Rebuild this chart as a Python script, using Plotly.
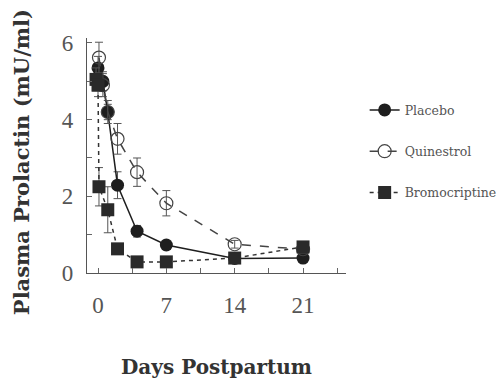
import plotly.graph_objects as go

# Data
placebo_days = [0, 0.5, 1, 2, 4, 7, 14, 21]
placebo_vals = [5.35, 5.0, 4.2, 2.29, 1.09, 0.73, 0.38, 0.39]
placebo_err = [0.3, 0.25, 0.2, 0.35, 0.15, 0.12, 0.1, 0.1]

quin_days = [0.1, 0.5, 1, 2, 4, 7, 14, 21]
quin_vals = [5.62, 4.9, 4.2, 3.5, 2.63, 1.82, 0.75, 0.62]
quin_err = [0.4, 0.3, 0.3, 0.4, 0.37, 0.33, 0.1, 0.1]

bromo_days = [-0.2, 0, 0.1, 1, 2, 4, 7, 14, 21]
bromo_vals = [5.05, 4.9, 2.25, 1.65, 0.63, 0.29, 0.29, 0.39, 0.68]
bromo_err = [0.3, 0.3, 0.5, 0.6, 0.1, 0.08, 0.08, 0.12, 0.12]

x_tick_vals = [0, 7, 14, 21]
y_tick_vals = [0, 2, 4, 6]

x_title = "Days Postpartum"
y_title = "Plasma Prolactin (mU/ml)"

line_col = "#1e1e1e"
font_serif = "Liberation Serif, Times New Roman, serif"
font_title = "DejaVu Serif, serif"

fig = go.Figure()

fig.add_trace(go.Scatter(
    x=placebo_days, y=placebo_vals, name="Placebo", legendgroup="a",
    mode="lines+markers",
    line=dict(color=line_col, width=1.5),
    marker=dict(symbol="circle", size=13, color=line_col),
    error_y=dict(type="data", array=placebo_err, color="#555", thickness=1, width=4),
))
fig.add_trace(go.Scatter(
    x=quin_days, y=quin_vals, name="Quinestrol", legendgroup="b",
    mode="lines+markers",
    line=dict(color="#444", width=1.5, dash="dash"),
    marker=dict(symbol="circle-open", size=13, color="#444", line=dict(width=1.2)),
    error_y=dict(type="data", array=quin_err, color="#555", thickness=1, width=4),
))
fig.add_trace(go.Scatter(
    x=bromo_days, y=bromo_vals, name="Bromocriptine", legendgroup="c",
    mode="lines+markers",
    line=dict(color="#333", width=1.5, dash="4px,4px"),
    marker=dict(symbol="square", size=13, color="#2a2a2a"),
    error_y=dict(type="data", array=bromo_err, color="#555", thickness=1, width=4),
))

fig.update_layout(
    width=504, height=379,
    margin=dict(l=79, r=166, t=30, b=114, autoexpand=False),
    paper_bgcolor="white", plot_bgcolor="white",
    font=dict(family=font_serif, color="#444"),
    showlegend=True,
    legend=dict(
        x=1.072, xanchor="left", y=0.756, yanchor="top",
        font=dict(size=12.5, color="#555", family=font_title),
        tracegroupgap=22, bgcolor="rgba(0,0,0,0)",
    ),
    annotations=[
        dict(text="<b>" + x_title + "</b>", xref="paper", yref="paper",
             x=0.5, y=-0.40, xanchor="center", yanchor="middle", showarrow=False,
             font=dict(size=20, color="#333", family=font_title)),
        dict(text="<b>" + y_title + "</b>", xref="paper", yref="paper",
             x=-0.2525, y=0.47, xanchor="center", yanchor="middle", showarrow=False,
             textangle=-90, font=dict(size=21, color="#333", family=font_title)),
    ],
)

fig.update_xaxes(
    range=[-1.127, 25.4], automargin=False,
    tickvals=x_tick_vals, ticktext=[str(v) for v in x_tick_vals],
    ticks="inside", ticklen=5, tickcolor="#666",
    minor=dict(dtick=3.5, tick0=0, ticks="inside", ticklen=5, tickcolor="#666"),
    showline=True, linecolor="#555", linewidth=1.2,
    showgrid=False, zeroline=False,
    tickfont=dict(size=23, color="#555", family=font_serif),
    ticklabelstandoff=11,
)
fig.update_yaxes(
    range=[0, 6.13], automargin=False,
    tickvals=y_tick_vals, ticktext=[str(v) for v in y_tick_vals],
    ticks="inside", ticklen=5, tickcolor="#666",
    minor=dict(dtick=1, tick0=0, ticks="inside", ticklen=5, tickcolor="#666"),
    showline=True, linecolor="#555", linewidth=1.2,
    showgrid=False, zeroline=False,
    tickfont=dict(size=23, color="#555", family=font_serif),
    ticklabelstandoff=8,
)

fig.write_html("out.html")
